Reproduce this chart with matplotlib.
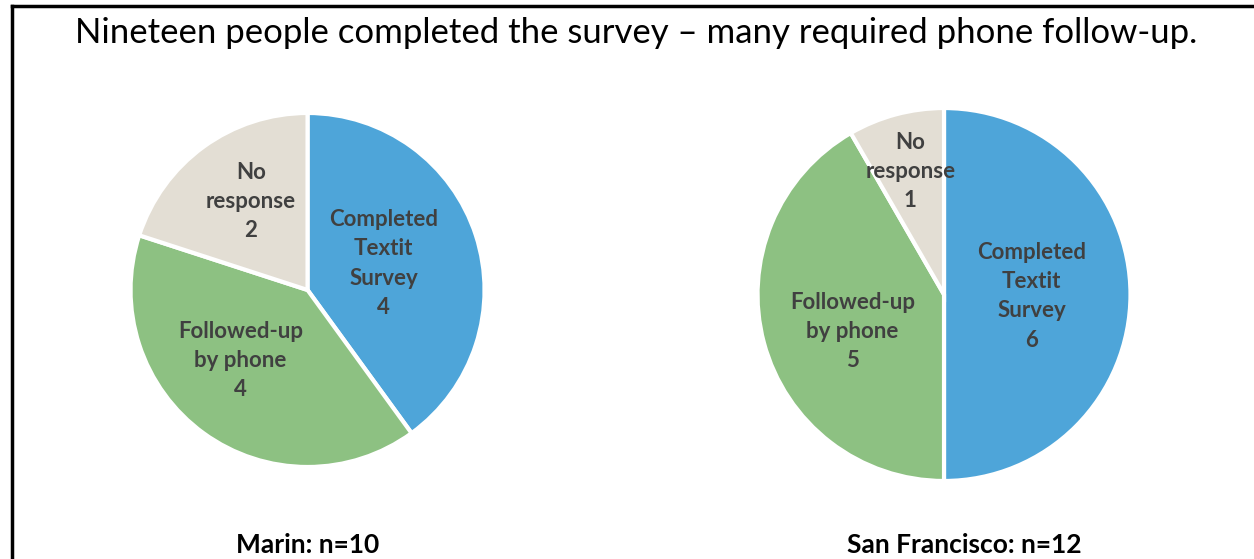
import matplotlib
matplotlib.use("Agg")
import matplotlib.pyplot as plt
from matplotlib.lines import Line2D

plt.rcParams['font.family'] = ['Lato', 'DejaVu Sans']

# --- data ---
categories = ["Completed\nTextit\nSurvey", "Followed-up\nby phone", "No\nresponse"]
marin_counts = [4, 4, 2]
sf_counts = [6, 5, 1]
marin_title = "Marin: n=10"
sf_title = "San Francisco: n=12"
title = "Nineteen people completed the survey \u2013 many required phone follow-up."

colors = ["#4EA5D9", "#8DC182", "#E3DED4"]

# label positions inside each pie (in radius units, hand-tuned like the original)
marin_label_pos = [(0.43, 0.15), (-0.38, -0.40), (-0.32, 0.50)]
sf_label_pos = [(0.47, -0.01), (-0.49, -0.20), (-0.18, 0.66)]

fig = plt.figure(figsize=(12.54, 5.59), dpi=100)

def draw_pie(rect, counts, label_pos):
    ax = fig.add_axes(rect)
    ax.pie(counts, colors=colors, startangle=90, counterclock=False,
           wedgeprops=dict(edgecolor="white", linewidth=3))
    for cat, n, (x, y) in zip(categories, counts, label_pos):
        ax.text(x, y, f"{cat}\n{n}", ha="center", va="center",
                fontsize=16, fontweight="bold", color="#404040",
                linespacing=1.48)
    ax.set_xlim(-1, 1)
    ax.set_ylim(-1, 1)
    ax.set_aspect("equal")
    ax.axis("off")
    return ax

ax1 = draw_pie([0.1041, 0.1646, 0.2823, 0.6333], marin_counts, marin_label_pos)
ax2 = draw_pie([0.6041, 0.1395, 0.2974, 0.6673], sf_counts, sf_label_pos)

fig.text(307.5 / 1254, 1 - 545 / 559, marin_title, ha="center", va="center",
         fontsize=19, fontweight="bold", color="black")
fig.text(964.5 / 1254, 1 - 545 / 559, sf_title, ha="center", va="center",
         fontsize=19, fontweight="bold", color="black")

fig.text(636 / 1254, 1 - 33 / 559, title, ha="center", va="center",
         fontsize=25, color="black")

# frame: left and top edges only (rest is cropped in the original)
fig.add_artist(Line2D([12 / 1254, 12 / 1254], [0, 1 - 6 / 559], color="black",
                      linewidth=2.5, transform=fig.transFigure))
fig.add_artist(Line2D([12 / 1254, 1], [1 - 6 / 559, 1 - 6 / 559], color="black",
                      linewidth=2.5, transform=fig.transFigure))

fig.savefig("out.png", dpi=100)
